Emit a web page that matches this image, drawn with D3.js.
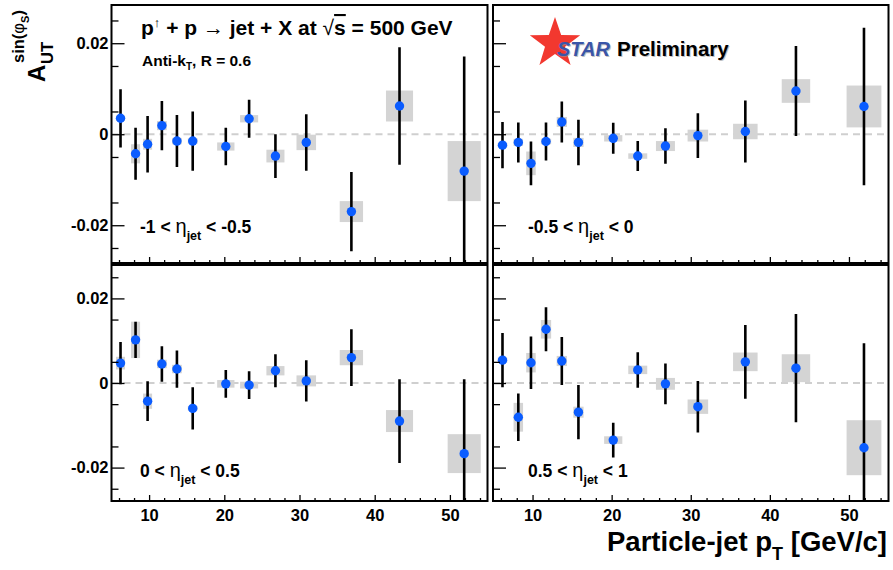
<!DOCTYPE html>
<html><head><meta charset="utf-8">
<script src="https://cdn.jsdelivr.net/npm/d3@7"></script>
<style>
body{margin:0;background:#fff}
svg{display:block}
text{font-family:"Liberation Sans",Arial,Helvetica,sans-serif;font-weight:bold;fill:#000}
</style>
</head><body>
<svg id="c" width="893" height="570"></svg>
<script>
// ---------- data ----------
const pT    = [6.2, 8.2, 9.8, 11.7, 13.7, 15.8, 20.2, 23.3, 26.8, 30.9, 36.9, 43.3, 51.9];
const pTSys = [0.6, 0.6, 0.6, 0.65, 0.65, 0.65, 1.15, 1.2, 1.2, 1.3, 1.55, 1.8, 2.2];

const etaLow  = ["-1", "-0.5", "0", "0.5"];
const etaHigh = ["-0.5", "0", "0.5", "1"];

const asym1 = [0.0035, -0.0043, -0.0022, 0.0019, -0.0015, -0.0015, -0.0027, 0.0034, -0.0048, -0.0018, -0.0170, 0.0062, -0.0081];
const stat1 = [0.0064, 0.0057, 0.0062, 0.0054, 0.0057, 0.0065, 0.0041, 0.0042, 0.0048, 0.0062, 0.0087, 0.0129, 0.0252];
const sys1  = [0.0006, 0.0021, 0.0012, 0.0010, 0.0007, 0.0006, 0.0009, 0.0008, 0.0014, 0.0017, 0.0023, 0.0034, 0.0066];

const asym2 = [-0.0024, -0.0018, -0.0064, -0.0016, 0.0027, -0.0018, -0.0009, -0.0048, -0.0026, -0.0003, 0.0006, 0.0095, 0.0061];
const stat2 = [0.0051, 0.0044, 0.0048, 0.0042, 0.0045, 0.0050, 0.0034, 0.0033, 0.0039, 0.0049, 0.0068, 0.0099, 0.0173];
const sys2  = [0.0005, 0.0008, 0.0026, 0.0006, 0.0011, 0.0010, 0.0007, 0.0006, 0.0011, 0.0013, 0.0017, 0.0026, 0.0046];

const asym3 = [0.0047, 0.0102, -0.0043, 0.0045, 0.0033, -0.0060, -0.0002, -0.0005, 0.0029, 0.0005, 0.0060, -0.0090, -0.0167];
const stat3 = [0.0050, 0.0043, 0.0047, 0.0042, 0.0044, 0.0050, 0.0033, 0.0033, 0.0039, 0.0049, 0.0067, 0.0099, 0.0176];
const sys3  = [0.0015, 0.0043, 0.0018, 0.0010, 0.0010, 0.0005, 0.0009, 0.0008, 0.0011, 0.0013, 0.0018, 0.0026, 0.0046];

const asym4 = [0.0054, -0.0081, 0.0048, 0.0127, 0.0052, -0.0069, -0.0135, 0.0031, -0.0002, -0.0056, 0.0050, 0.0035, -0.0153];
const stat4 = [0.0064, 0.0056, 0.0062, 0.0052, 0.0057, 0.0064, 0.0041, 0.0042, 0.0048, 0.0061, 0.0087, 0.0128, 0.0247];
const sys4  = [0.0006, 0.0034, 0.0023, 0.0022, 0.0012, 0.0013, 0.0009, 0.0010, 0.0014, 0.0017, 0.0022, 0.0033, 0.0065];

const xMajorTicks = [10, 20, 30, 40, 50];
const yMajorTicks = [-0.02, 0, 0.02];
const yTickLabels = ["-0.02", "0", "0.02"];

// ---------- layout ----------
const svg = d3.select("#c");
const colL = [111.5, 493], colR = [487.5, 888.5];
const rowT = [5, 265], rowB = [263, 501];
const yDoms = [[-0.0283, 0.0284], [-0.0279, 0.0279]];
const series = [[asym1, stat1, sys1], [asym2, stat2, sys2], [asym3, stat3, sys3], [asym4, stat4, sys4]];

series.forEach((s, i) => {
  const col = i % 2, row = Math.floor(i / 2);
  const x = d3.scaleLinear().domain([5, 55]).range([colL[col], colR[col]]);
  const y = d3.scaleLinear().domain(yDoms[row]).range([rowB[row], rowT[row]]);
  const g = svg.append("g");
  const cid = "clip" + i;
  svg.append("clipPath").attr("id", cid).append("rect")
    .attr("x", colL[col]).attr("y", rowT[row])
    .attr("width", colR[col] - colL[col]).attr("height", rowB[row] - rowT[row]);
  const data = pT.map((p, k) => ({p, dp: pTSys[k], a: s[0][k], st: s[1][k], sy: s[2][k]}));
  const pg = g.append("g").attr("clip-path", `url(#${cid})`);

  pg.append("line").attr("x1", colL[col]).attr("x2", colR[col])
    .attr("y1", y(0)).attr("y2", y(0))
    .attr("stroke", "#cfcfcf").attr("stroke-width", 2).attr("stroke-dasharray", "7,5");

  pg.selectAll("rect.sys").data(data).join("rect").attr("class", "sys")
    .attr("x", d => x(d.p - d.dp)).attr("width", d => x(d.p + d.dp) - x(d.p - d.dp))
    .attr("y", d => y(d.a + d.sy)).attr("height", d => y(d.a - d.sy) - y(d.a + d.sy))
    .attr("fill", "#d4d4d4");

  pg.selectAll("line.err").data(data).join("line").attr("class", "err")
    .attr("x1", d => x(d.p)).attr("x2", d => x(d.p))
    .attr("y1", d => y(d.a + d.st)).attr("y2", d => y(d.a - d.st))
    .attr("stroke", "#000").attr("stroke-width", 2.6);

  pg.selectAll("circle").data(data).join("circle")
    .attr("cx", d => x(d.p)).attr("cy", d => y(d.a)).attr("r", 4.7)
    .attr("fill", "#0a5cff");

  const xAxis = d3.axisBottom(x).tickValues(xMajorTicks).tickSize(-6).tickPadding(4)
    .tickFormat(row === 1 ? d3.format("d") : () => "");
  const xMinor = d3.axisBottom(x).tickValues(d3.range(6, 55, 2).filter(v => v % 10 !== 0)).tickSize(-3).tickFormat(() => "");
  const yAxis = d3.axisLeft(y).tickValues(yMajorTicks).tickSize(-13).tickPadding(4)
    .tickFormat((d, k) => col === 0 ? yTickLabels[k] : "");
  const yMinor = d3.axisLeft(y).tickValues(d3.range(-0.025, 0.0251, 0.005).filter(v => Math.abs(Math.round(v / 0.005)) % 2 === 1)).tickSize(-7).tickFormat(() => "");

  [xAxis, xMinor].forEach(ax => {
    const a = g.append("g").attr("transform", `translate(0,${rowB[row]})`).call(ax);
    a.select(".domain").remove();
    a.selectAll("line").attr("stroke", "#000").attr("stroke-width", 1.3);
    a.selectAll("text").attr("font-size", 16.5).attr("dy", "0.95em").attr("fill", "#000")
      .style("font-family", '"Liberation Sans",Arial,sans-serif').style("font-weight", "bold");
  });
  [yAxis, yMinor].forEach(ax => {
    const a = g.append("g").attr("transform", `translate(${colL[col]},0)`).call(ax);
    a.select(".domain").remove();
    a.selectAll("line").attr("stroke", "#000").attr("stroke-width", 1.3);
    a.selectAll("text").attr("font-size", 16.5).attr("fill", "#000").attr("x", -3)
      .style("font-family", '"Liberation Sans",Arial,sans-serif').style("font-weight", "bold");
  });

  g.append("rect").attr("x", colL[col]).attr("y", rowT[row])
    .attr("width", colR[col] - colL[col]).attr("height", rowB[row] - rowT[row])
    .attr("fill", "none").attr("stroke", "#000").attr("stroke-width", 2);

  const lx = col === 0 ? 140 : 528;
  const ly = row === 0 ? 233 : 477;
  const t = g.append("text").attr("x", lx).attr("y", ly).attr("font-size", 17.5);
  t.append("tspan").text(etaLow[i] + " < ");
  t.append("tspan").text("η").style("font-weight", "normal").attr("font-size", 20);
  t.append("tspan").text("jet").attr("font-size", 12.5).attr("dy", 7);
  t.append("tspan").text(" < " + etaHigh[i]).attr("dy", -7);
});

// title
const tt = svg.append("text").attr("x", 141).attr("y", 35).attr("font-size", 21);
tt.append("tspan").text("p");
tt.append("tspan").text("↑").attr("font-size", 13).attr("dy", -8).style("font-weight", "normal");
tt.append("tspan").text(" + p ").attr("dy", 8);
tt.append("tspan").text("→").style("font-weight", "normal");
tt.append("tspan").text(" jet + X at ");
tt.append("tspan").text("√").style("font-weight", "normal");
tt.append("tspan").text("s").style("text-decoration", "overline");
tt.append("tspan").text(" = 500 GeV");

const st = svg.append("text").attr("x", 142).attr("y", 66).attr("font-size", 15.5);
st.append("tspan").text("Anti-k");
st.append("tspan").text("T").attr("font-size", 10).attr("dy", 4);
st.append("tspan").text(", R = 0.6").attr("dy", -4);

// STAR Preliminary
const cx = 555, cy = 43.5, R = 26.5, r = 10.5;
const starPts = d3.range(10).map(k => {
  const ang = -Math.PI / 2 + k * Math.PI / 5, rr = k % 2 ? r : R;
  return [cx + rr * Math.cos(ang), cy + rr * Math.sin(ang)];
});
svg.append("polygon").attr("points", starPts.map(p => p.join(",")).join(" ")).attr("fill", "#f2382f");
svg.append("text").attr("x", 557).attr("y", 56).attr("font-size", 20).attr("font-style", "italic")
  .style("fill", "#999").attr("opacity", 0.6).attr("transform", "translate(1,1)").text("STAR");
svg.append("text").attr("x", 557).attr("y", 56).attr("font-size", 20).attr("font-style", "italic")
  .style("fill", "#3a55a8").text("STAR");
svg.append("text").attr("x", 617).attr("y", 56).attr("font-size", 20.5)
  .style("fill", "#999").attr("opacity", 0.6).attr("transform", "translate(1,1)").text("Preliminary");
svg.append("text").attr("x", 617).attr("y", 56).attr("font-size", 20.5).text("Preliminary");

// x title
const xt = svg.append("text").attr("x", 887).attr("y", 551).attr("text-anchor", "end").attr("font-size", 27.5);
xt.append("tspan").text("Particle-jet p");
xt.append("tspan").text("T").attr("font-size", 18).attr("dy", 9);
xt.append("tspan").text(" [GeV/c]").attr("dy", -9);

// y title
const yg = svg.append("g").attr("transform", "translate(45,82) rotate(-90)");
yg.append("text").attr("x", 0).attr("y", 0).attr("font-size", 24).text("A");
yg.append("text").attr("x", 18).attr("y", 8).attr("font-size", 16.5).text("UT");
const sup = yg.append("text").attr("x", 19).attr("y", -21).attr("font-size", 16.5);
sup.append("tspan").text("sin(");
sup.append("tspan").text("φ").style("font-weight", "normal");
sup.append("tspan").text("S").attr("font-size", 11).attr("dy", 5);
sup.append("tspan").text(")").attr("dy", -5);
</script>
</body></html>
